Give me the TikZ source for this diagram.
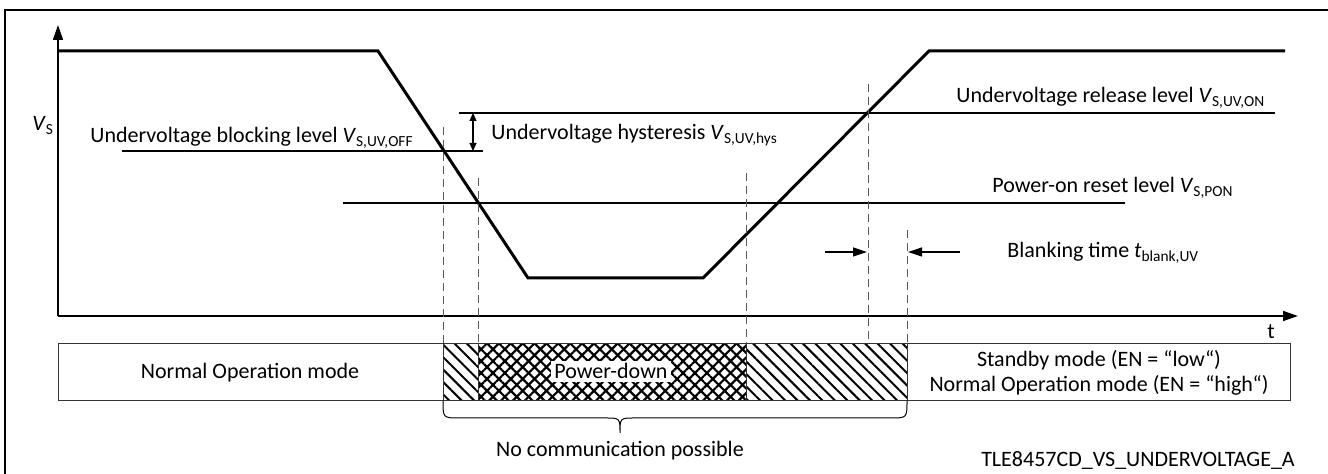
\documentclass[tikz,border=0pt]{standalone}
\usepackage{fontspec}
\setmainfont{Carlito}
\usetikzlibrary{patterns.meta,arrows.meta}
\begin{document}
\begin{tikzpicture}[x=0.5pt,y=-0.5pt,
  lvl/.style={line width=0.6pt},
  sig/.style={line width=1.5pt, line join=miter},
  axis/.style={line width=0.8pt, -{Triangle[length=7.5pt,width=5pt]}},
  guide/.style={line width=0.5pt, dash pattern=on 4pt off 2.5pt, black!65},
  lbl/.style={font=\fontsize{11}{13}\selectfont, inner sep=0pt},
  barline/.style={line width=0.5pt, black!80},
  hatch/.style={pattern={Lines[angle=-45,distance=4.4pt,line width=1pt]}},
  xhatchA/.style={pattern={Lines[angle=45,distance=4.2pt,line width=1.1pt]}},
  xhatchB/.style={pattern={Lines[angle=-45,distance=4.2pt,line width=1.1pt]}},
  smallarr/.style={line width=0.6pt, {Triangle[length=4pt,width=3.5pt]}-{Triangle[length=4pt,width=3.5pt]}},
  blankarr/.style={line width=0.6pt, -{Triangle[length=7pt,width=4.5pt]}}
]
\useasboundingbox (0,0) rectangle (1328,474);
% frame
\coordinate (fTL) at (5,10);
\coordinate (fTR) at (1328,10);
\coordinate (fBL) at (5,474);
\draw[line width=0.6pt] (fBL) -- (fTL) -- (fTR);

% axes
\coordinate (O) at (58,316);
\coordinate (ytip) at (58,25);
\coordinate (xtip) at (1298,316);
\draw[axis] (O) -- (ytip);
\draw[axis] (O) -- (xtip);
\node[lbl, anchor=base] (tlab) at (1271,339) {t};
\node[lbl, anchor=base west] (vslab) at (32,131) {\textit{V}\textsubscript{S}};

% levels
\coordinate (offL) at (122,151); \coordinate (offR) at (483,151);
\coordinate (onL) at (459,113);  \coordinate (onR) at (1275,113);
\coordinate (ponL) at (343,203); \coordinate (ponR) at (1125,203);
\draw[lvl] (offL) -- (offR);
\draw[lvl] (onL) -- (onR);
\draw[lvl] (ponL) -- (ponR);

% hysteresis arrow
\coordinate (hyT) at (473,113); \coordinate (hyB) at (473,151);
\draw[smallarr] (hyT) -- (hyB);

% labels
\node[lbl, anchor=base west] (offlab) at (90,143) {Undervoltage blocking level \textit{V}\textsubscript{S,UV,OFF}};
\node[lbl, anchor=base west] (hyslab) at (491,140) {Undervoltage hysteresis \textit{V}\textsubscript{S,UV,hys}};
\node[lbl, anchor=base west] (onlab) at (956,103) {Undervoltage release level \textit{V}\textsubscript{S,UV,ON}};
\node[lbl, anchor=base west] (ponlab) at (992,193) {Power-on reset level \textit{V}\textsubscript{S,PON}};
\node[lbl, anchor=base west] (blanklab) at (1007,258) {Blanking time \textit{t}\textsubscript{blank,UV}};

% signal
\coordinate (s0) at (58,51);
\coordinate (s1) at (378,51);
\coordinate (s2) at (528,278);
\coordinate (s3) at (703,278);
\coordinate (s4) at (929,51);
\coordinate (s5) at (1285,51);
\draw[sig] (s0) -- (s1) -- (s2) -- (s3) -- (s4) -- (s5);

% mode bar
\coordinate (bTL) at (58,344);
\coordinate (bBR) at (1290,401);
\fill[hatch] (443,344) rectangle (478,401);
\fill[xhatchA] (478,344) rectangle (746,401);
\fill[xhatchB] (478,344) rectangle (746,401);
\fill[hatch] (746,344) rectangle (907,401);
\draw[barline] (bTL) rectangle (bBR);
\foreach \xx/\nm in {443/a,478/b,746/c,907/d}{
  \coordinate (bt\nm) at (\xx,344);
  \coordinate (bb\nm) at (\xx,401);
  \draw[barline] (bt\nm) -- (bb\nm);
}

% dashed guides
\coordinate (ga) at (443,127);
\coordinate (gb) at (478,178);
\coordinate (gc) at (746,173);
\coordinate (ge) at (868,84);
\coordinate (gf) at (907,230);
\coordinate (geb) at (868,344);
\draw[guide] (ga) -- (bta);
\draw[guide] (gb) -- (btb);
\draw[guide] (gc) -- (btc);
\draw[guide] (ge) -- (geb);
\draw[guide] (gf) -- (btd);

% blanking arrows
\coordinate (baL) at (825,252); \coordinate (baLt) at (867,252);
\coordinate (baR) at (960,252); \coordinate (baRt) at (908,252);
\draw[blankarr] (baL) -- (baLt);
\draw[blankarr] (baR) -- (baRt);

% bar texts
\node[lbl, anchor=base] (normlab) at (250,379) {Normal Operation mode};
\node[lbl, anchor=base, fill=white, inner xsep=1.5pt, inner ysep=1.5pt] (pdlab) at (611,379) {Power-down};
\node[lbl, anchor=base] (sblab) at (1099,367) {Standby mode (EN = “low“)};
\node[lbl, anchor=base] (nolab2) at (1099,392) {Normal Operation mode (EN = “high“)};

% brace
\coordinate (brL) at (443,401);
\coordinate (brR) at (907,401);
\coordinate (brTip) at (620,433);
\draw[line width=0.5pt] (brL) .. controls (443,418) .. (460,418) -- (605,418)
  .. controls (620,418) .. (brTip) .. controls (620,418) .. (635,418) -- (890,418)
  .. controls (907,418) .. (brR);
\node[lbl, anchor=base] (nocomm) at (620,457) {No communication possible};
\node[lbl, anchor=base] (tle) at (1138,467) {TLE8457CD\_VS\_UNDERVOLTAGE\_A};
\end{tikzpicture}
\end{document}
